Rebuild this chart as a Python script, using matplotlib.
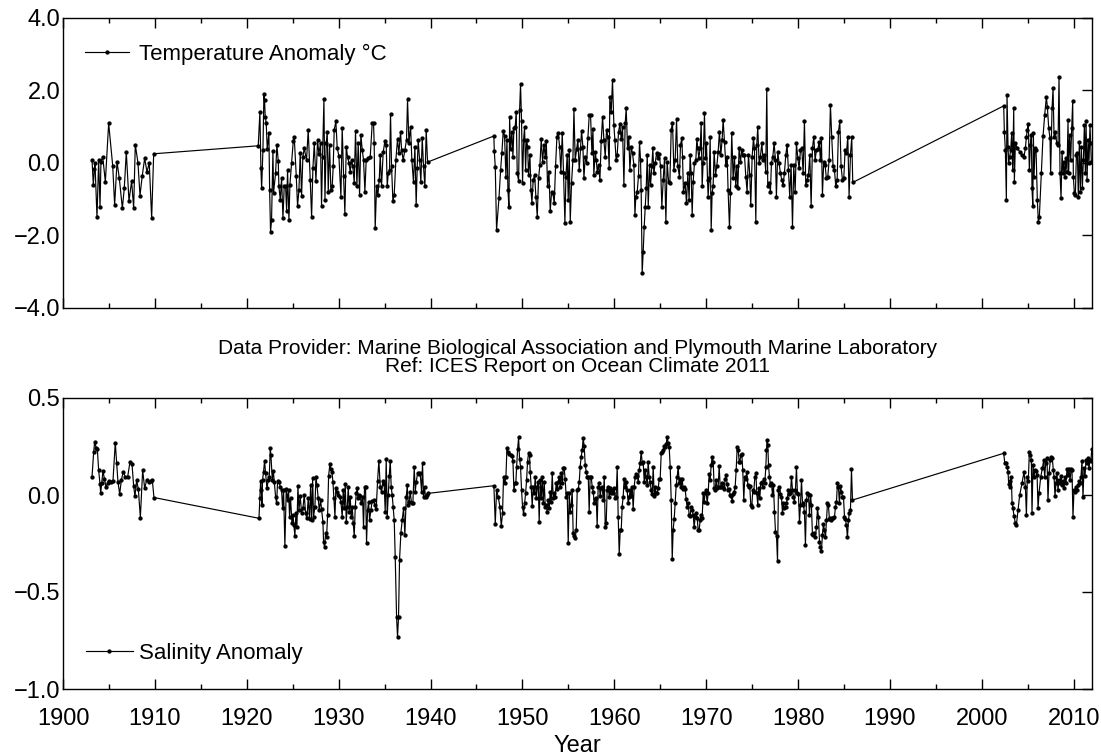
import numpy as np
import matplotlib
matplotlib.use("Agg")
import matplotlib.pyplot as plt
from matplotlib.ticker import MultipleLocator, FuncFormatter

plt.rcParams['font.family'] = ['Liberation Sans', 'DejaVu Sans']

# ---------------- DATA (year, anomaly) ----------------
temp_1903_1910 = [
    (1903.16, 0.08), (1903.30, -0.61), (1903.41, -0.18), (1903.48, -0.01), (1903.70, -1.50),
    (1903.88, 0.08), (1904.03, -1.21), (1904.13, 0.03), (1904.32, 0.17), (1904.61, -0.52),
    (1904.97, 1.09), (1905.41, -0.08), (1905.62, -1.16), (1905.88, 0.03), (1906.13, -0.43),
    (1906.46, -1.25), (1906.67, -0.70), (1906.89, 0.30), (1907.18, -1.05), (1907.47, -0.50),
    (1907.69, -1.25), (1907.87, 0.50), (1908.16, 0.00), (1908.38, -0.90), (1908.63, -0.35),
    (1908.89, 0.13), (1909.14, -0.25), (1909.39, 0.00), (1909.65, -1.53), (1909.87, 0.25),
]

temp_1921_1939 = [
    (1921.25, 0.47), (1921.43, 1.40), (1921.54, -0.15), (1921.62, -0.70), (1921.76, 0.35),
    (1921.87, 1.90), (1921.94, 1.72), (1922.01, 1.27), (1922.12, 1.09), (1922.23, 0.38),
    (1922.41, 0.82), (1922.49, -0.74), (1922.59, -1.91), (1922.70, -1.57), (1922.85, 0.32),
    (1922.92, -0.82), (1923.14, -0.28), (1923.28, 0.50), (1923.43, 0.04), (1923.50, -0.65),
    (1923.65, -1.02), (1923.79, -0.42), (1923.94, -1.52), (1924.08, -0.65), (1924.23, -0.65),
    (1924.34, -1.34), (1924.44, -0.19), (1924.59, -1.57), (1924.70, -0.60), (1924.88, 0.00),
    (1925.06, 0.59), (1925.17, 0.70), (1925.39, -0.37), (1925.53, -1.20), (1925.68, -0.74),
    (1925.82, 0.27), (1925.97, -0.91), (1926.11, 0.17), (1926.26, 0.40), (1926.51, 0.08),
    (1926.69, 0.91), (1926.91, -0.47), (1927.06, -1.50), (1927.20, -0.15), (1927.35, 0.54),
    (1927.53, -0.50), (1927.71, 0.63), (1927.85, 0.25), (1928.03, 0.54), (1928.14, -1.18),
    (1928.25, 0.17), (1928.40, 1.75), (1928.51, -1.02), (1928.65, 0.54), (1928.76, 0.86),
    (1928.87, -0.79), (1929.01, 0.50), (1929.16, -0.76), (1929.30, -0.65), (1929.41, -0.10),
    (1929.52, 0.91), (1929.70, 1.14), (1929.85, 0.40), (1930.03, 0.19), (1930.25, -0.93),
    (1930.39, 0.97), (1930.54, -0.37), (1930.68, -1.40), (1930.83, 0.45), (1930.97, 0.17),
    (1931.12, 0.00), (1931.26, -0.24), (1931.41, 0.08), (1931.55, -0.10), (1931.70, -0.56),
    (1931.84, 0.88), (1931.99, -0.65), (1932.13, 0.54), (1932.28, -0.88), (1932.42, 0.77),
    (1932.57, 0.36), (1932.71, 0.08), (1932.86, -0.79), (1933.00, 0.08), (1933.22, 0.13),
    (1933.44, 0.16), (1933.66, 1.11), (1933.80, 1.09), (1933.87, 0.54), (1933.98, -1.80),
    (1934.13, -0.65), (1934.27, -0.88), (1934.42, -0.47), (1934.53, 0.22), (1934.67, -0.65),
    (1934.85, 0.29), (1935.04, 0.61), (1935.18, 0.50), (1935.29, -0.65), (1935.40, -0.28),
    (1935.54, -0.19), (1935.65, 1.35), (1935.76, -0.10), (1935.91, -1.06), (1936.05, -0.88),
    (1936.23, 0.08), (1936.41, 0.65), (1936.56, 0.27), (1936.74, 0.86), (1936.85, 0.36),
    (1937.03, 0.08), (1937.21, 0.36), (1937.39, 0.63), (1937.50, 1.75), (1937.65, 0.56),
    (1937.83, 1.00), (1937.97, 0.08), (1938.15, -0.54), (1938.30, 0.45), (1938.44, -1.16),
    (1938.55, -0.15), (1938.66, 0.63), (1938.81, 0.08), (1938.95, -0.54), (1939.10, 0.68),
    (1939.24, -0.10), (1939.39, -0.65), (1939.53, 0.91), (1939.68, 0.02),
]

temp_1947_1966 = [
    (1946.90, 0.74), (1946.94, 0.34), (1947.05, -0.12), (1947.19, -1.85), (1947.45, -0.98),
    (1947.63, -0.20), (1947.77, 0.28), (1947.92, 0.88), (1948.06, 0.74), (1948.21, -0.40),
    (1948.32, 0.63), (1948.43, -0.76), (1948.54, -1.23), (1948.61, 1.25), (1948.72, 0.37),
    (1948.86, 0.86), (1948.97, 0.17), (1949.08, 0.95), (1949.22, 1.00), (1949.33, 1.41),
    (1949.44, -0.29), (1949.59, -0.49), (1949.70, 1.46), (1949.80, 2.17), (1949.91, 1.14),
    (1950.02, -0.56), (1950.13, 0.63), (1950.24, 0.98), (1950.35, -0.20), (1950.46, 0.63),
    (1950.57, 0.45), (1950.67, -0.33), (1950.82, 0.22), (1950.93, -0.75), (1951.04, -1.10),
    (1951.18, -0.47), (1951.33, -0.33), (1951.47, -0.93), (1951.62, -1.48), (1951.76, -0.43),
    (1951.91, -0.06), (1952.05, 0.65), (1952.20, 0.03), (1952.34, 0.49), (1952.49, 0.17),
    (1952.60, 0.61), (1952.74, -0.64), (1952.89, -0.24), (1953.03, -1.34), (1953.18, -0.79),
    (1953.32, -0.84), (1953.47, -1.11), (1953.61, -0.10), (1953.76, 0.72), (1953.90, 0.83),
    (1954.05, 0.45), (1954.19, -0.24), (1954.34, 0.81), (1954.48, -0.29), (1954.63, -1.66),
    (1954.74, -0.38), (1954.88, 0.22), (1954.99, -1.02), (1955.10, 0.36), (1955.21, -1.62),
    (1955.35, -0.56), (1955.50, 0.08), (1955.61, 1.48), (1955.75, 0.08), (1955.90, 0.37),
    (1956.04, 0.63), (1956.19, -0.20), (1956.33, 0.40), (1956.44, 0.89), (1956.59, 0.43),
    (1956.70, -0.43), (1956.84, 0.17), (1956.99, -0.01), (1957.13, 0.68), (1957.28, 1.32),
    (1957.42, 1.32), (1957.57, 0.26), (1957.68, 0.93), (1957.78, -0.33), (1957.93, 0.31),
    (1958.04, 0.08), (1958.15, -0.24), (1958.29, -0.06), (1958.44, -0.47), (1958.58, 0.60),
    (1958.73, 1.27), (1958.87, 0.63), (1959.02, 0.17), (1959.16, 0.91), (1959.31, 0.72),
    (1959.45, -0.15), (1959.52, 1.81), (1959.67, 1.41), (1959.81, 2.28), (1959.96, 1.04),
    (1960.07, 0.63), (1960.21, 0.08), (1960.32, 0.22), (1960.47, 0.86), (1960.61, 1.06),
    (1960.76, 0.65), (1960.90, 1.00), (1961.05, -0.61), (1961.19, 1.09), (1961.30, 1.50),
    (1961.45, 0.40), (1961.59, 0.70), (1961.70, -0.20), (1961.85, 0.43), (1961.99, 0.26),
    (1962.14, -0.06), (1962.25, -1.43), (1962.35, -0.93), (1962.50, -0.79), (1962.64, -0.36),
    (1962.75, 0.58), (1962.86, 0.08), (1962.93, -0.75), (1963.04, -3.04), (1963.15, -2.45),
    (1963.26, -1.76), (1963.37, -1.21), (1963.48, -0.70), (1963.59, 0.22), (1963.70, -1.21),
    (1963.84, -0.06), (1963.95, -0.61), (1964.09, -0.10), (1964.20, 0.40), (1964.31, -0.29),
    (1964.46, -0.01), (1964.60, 0.26), (1964.75, 0.13), (1964.89, 0.25), (1965.04, -0.10),
    (1965.18, -1.21), (1965.33, -0.47), (1965.47, 0.13), (1965.62, -1.62), (1965.76, 0.03),
    (1965.91, -0.52), (1966.05, -0.56), (1966.20, 0.91), (1966.34, 1.11), (1966.49, -0.20),
    (1966.63, 0.08), (1966.78, 1.20),
]

temp_1967_1986 = [
    (1966.92, -0.10), (1967.10, -0.38), (1967.21, 0.49), (1967.35, 0.68), (1967.43, 0.17),
    (1967.53, -0.79), (1967.72, -0.56), (1967.86, -1.11), (1968.01, -0.29), (1968.15, -1.02),
    (1968.26, 0.22), (1968.37, -0.29), (1968.48, -1.43), (1968.59, -0.52), (1968.73, -0.01),
    (1968.88, 0.08), (1968.99, 0.66), (1969.09, 0.40), (1969.20, 0.13), (1969.35, 0.40),
    (1969.46, 1.09), (1969.57, -0.65), (1969.67, -0.01), (1969.82, 1.37), (1969.93, 0.13),
    (1970.04, 0.54), (1970.15, -0.47), (1970.22, -0.93), (1970.33, -0.43), (1970.44, 0.70),
    (1970.55, -1.85), (1970.65, -0.84), (1970.76, -0.65), (1970.87, 0.31), (1971.02, -0.33),
    (1971.16, -0.10), (1971.31, 0.31), (1971.45, 0.86), (1971.60, 0.22), (1971.74, 0.63),
    (1971.85, 1.18), (1972.00, 0.58), (1972.14, -0.06), (1972.29, 0.17), (1972.39, -0.75),
    (1972.54, -1.78), (1972.65, -0.84), (1972.79, 0.81), (1972.94, -0.43), (1973.08, 0.17),
    (1973.23, -0.65), (1973.34, -0.10), (1973.45, -0.70), (1973.59, 0.40), (1973.74, 0.03),
    (1973.88, 0.36), (1974.03, 0.22), (1974.17, 0.22), (1974.32, -0.38), (1974.46, -0.79),
    (1974.61, 0.22), (1974.75, -0.33), (1974.86, -1.16), (1975.01, 0.17), (1975.15, 0.68),
    (1975.26, 0.40), (1975.41, -1.62), (1975.51, 0.49), (1975.62, 0.98), (1975.77, -0.01),
    (1975.91, 0.17), (1976.06, 0.54), (1976.20, 0.08), (1976.35, 0.22), (1976.49, -0.24),
    (1976.60, 2.03), (1976.71, -0.65), (1976.86, -0.56), (1977.00, -0.79), (1977.11, -0.01),
    (1977.26, 0.17), (1977.40, 0.54), (1977.55, 0.08), (1977.65, -0.93), (1977.80, 0.31),
    (1977.94, -0.01), (1978.09, -0.29), (1978.23, -0.47), (1978.38, -0.61), (1978.52, -0.29),
    (1978.67, 0.22), (1978.81, 0.49), (1978.96, -0.20), (1979.10, -0.93), (1979.25, -0.06),
    (1979.40, -1.76), (1979.54, -0.06), (1979.69, -0.79), (1979.83, 0.54), (1979.98, 0.13),
    (1980.12, -0.15), (1980.27, 0.36), (1980.41, 0.40), (1980.56, -0.29), (1980.70, 1.15),
    (1980.85, -0.61), (1980.99, -0.47), (1981.14, -0.33), (1981.28, 0.22), (1981.43, -1.19),
    (1981.57, 0.40), (1981.72, 0.72), (1981.86, 0.08), (1982.01, 0.36), (1982.15, 0.37),
    (1982.30, 0.58), (1982.44, 0.08), (1982.55, 0.68), (1982.66, -0.88), (1982.80, 0.03),
    (1982.95, -0.06), (1983.09, -0.43), (1983.24, -0.38), (1983.39, 0.08), (1983.53, 1.59),
    (1983.67, 0.72), (1983.82, -0.10), (1983.97, -0.20), (1984.11, -0.65), (1984.26, -0.47),
    (1984.40, 0.86), (1984.55, 1.14), (1984.69, -0.10), (1984.84, -0.47), (1984.98, -0.43),
    (1985.13, 0.36), (1985.27, 0.26), (1985.42, 0.72), (1985.56, -0.93), (1985.71, 0.22),
    (1985.85, 0.70), (1985.96, -0.54),
]

temp_2002_2012 = [
    (2002.39, 1.57), (2002.46, 0.86), (2002.57, 0.36), (2002.68, -1.02), (2002.75, 1.87),
    (2002.86, 0.45), (2002.93, -0.01), (2003.04, 0.17), (2003.15, 0.36), (2003.26, 0.81),
    (2003.37, -0.20), (2003.48, 1.50), (2003.55, -0.52), (2003.66, 0.54), (2003.88, 0.40),
    (2004.13, 0.31), (2004.38, 0.22), (2004.60, 0.17), (2004.75, 0.40), (2004.86, 0.72),
    (2004.96, 0.91), (2005.07, 1.07), (2005.18, -0.20), (2005.29, 0.49), (2005.40, 0.77),
    (2005.47, -0.70), (2005.56, -1.20), (2005.62, 0.81), (2005.69, -0.38), (2005.80, 0.40),
    (2005.91, 0.36), (2006.05, -1.02), (2006.16, -1.62), (2006.27, -1.48), (2006.49, -0.29),
    (2006.67, 0.74), (2006.85, 1.32), (2007.03, 1.81), (2007.14, 1.55), (2007.29, 0.95),
    (2007.43, 0.68), (2007.50, -0.29), (2007.65, 1.50), (2007.76, 2.05), (2007.87, 0.72),
    (2008.01, 0.86), (2008.16, 0.54), (2008.30, 0.49), (2008.41, 2.36), (2008.52, -0.29),
    (2008.63, -0.98), (2008.74, 0.31), (2008.85, -0.29), (2008.95, 0.03), (2009.06, -0.38),
    (2009.17, 0.13), (2009.28, -0.24), (2009.39, 1.18), (2009.46, -0.29), (2009.57, 0.77),
    (2009.68, 0.08), (2009.79, 0.95), (2009.90, 1.71), (2009.97, -0.38), (2010.08, -0.84),
    (2010.19, -0.88), (2010.30, 0.22), (2010.41, 0.26), (2010.51, -0.93), (2010.62, 0.58),
    (2010.73, -0.79), (2010.84, 0.45), (2010.95, -0.70), (2011.06, 0.08), (2011.17, 1.04),
    (2011.28, -0.29), (2011.35, 1.14), (2011.46, -0.47), (2011.57, 0.63), (2011.67, -0.01),
    (2011.78, 1.04), (2011.86, 0.54), (2011.93, 0.03),
]

sal_1903_1910 = [
    (1903.16, 0.094), (1903.34, 0.223), (1903.45, 0.274), (1903.63, 0.240), (1903.74, 0.235),
    (1903.88, 0.128), (1904.03, 0.056), (1904.10, 0.008), (1904.21, 0.060), (1904.35, 0.125),
    (1904.50, 0.085), (1904.68, 0.042), (1904.86, 0.060), (1905.04, 0.072), (1905.22, 0.068),
    (1905.44, 0.073), (1905.69, 0.270), (1905.84, 0.163), (1905.98, 0.068), (1906.17, 0.005),
    (1906.35, 0.077), (1906.56, 0.120), (1906.78, 0.094), (1907.04, 0.094), (1907.29, 0.171),
    (1907.51, 0.160), (1907.69, 0.046), (1907.83, -0.006), (1908.02, 0.077), (1908.20, 0.029),
    (1908.42, -0.116), (1908.67, 0.128), (1908.89, 0.034), (1909.10, 0.077), (1909.32, 0.068),
    (1909.54, 0.073), (1909.72, 0.077), (1909.90, -0.013),
]

sal_1921_1939 = [
    (1921.33, -0.120), (1921.43, -0.017), (1921.51, 0.074), (1921.58, 0.026), (1921.65, -0.052),
    (1921.72, 0.077), (1921.83, 0.120), (1921.94, 0.177), (1922.05, 0.111), (1922.20, 0.034),
    (1922.34, 0.077), (1922.45, 0.094), (1922.56, 0.240), (1922.63, 0.206), (1922.78, 0.077),
    (1922.89, 0.125), (1922.99, 0.069), (1923.14, -0.009), (1923.25, -0.043), (1923.36, 0.074),
    (1923.50, 0.069), (1923.65, 0.043), (1923.79, 0.026), (1923.90, -0.069), (1924.01, 0.026),
    (1924.15, -0.263), (1924.30, 0.029), (1924.44, -0.026), (1924.55, 0.026), (1924.66, -0.112),
    (1924.77, -0.017), (1924.92, -0.146), (1925.03, -0.103), (1925.13, -0.155), (1925.24, -0.212),
    (1925.35, -0.095), (1925.46, -0.167), (1925.57, 0.046), (1925.68, -0.078), (1925.82, -0.005),
    (1925.97, -0.095), (1926.11, -0.069), (1926.26, 0.000), (1926.40, -0.095), (1926.55, -0.120),
    (1926.69, -0.017), (1926.84, -0.126), (1926.95, 0.051), (1927.06, -0.129), (1927.17, 0.086),
    (1927.27, -0.112), (1927.42, -0.060), (1927.53, 0.094), (1927.64, 0.051), (1927.78, -0.017),
    (1927.89, -0.078), (1928.04, -0.026), (1928.14, -0.074), (1928.29, -0.138), (1928.36, -0.241),
    (1928.47, -0.267), (1928.58, -0.198), (1928.69, -0.215), (1928.80, -0.103), (1928.91, 0.098),
    (1929.05, 0.160), (1929.16, 0.132), (1929.27, 0.120), (1929.38, 0.069), (1929.49, -0.017),
    (1929.60, -0.112), (1929.70, 0.034), (1929.81, 0.017), (1929.96, 0.000), (1930.10, -0.009),
    (1930.25, -0.035), (1930.39, -0.112), (1930.50, 0.026), (1930.61, -0.069), (1930.72, 0.056),
    (1930.83, -0.138), (1930.94, -0.060), (1931.05, 0.043), (1931.15, -0.086), (1931.26, -0.009),
    (1931.37, -0.112), (1931.48, -0.060), (1931.59, -0.146), (1931.70, -0.212), (1931.81, -0.060),
    (1931.92, 0.008), (1932.02, 0.034), (1932.13, -0.017), (1932.24, 0.000), (1932.35, -0.005),
    (1932.46, -0.043), (1932.61, -0.012), (1932.71, -0.167), (1932.82, 0.039), (1932.93, 0.039),
    (1933.04, -0.246), (1933.15, -0.078), (1933.26, -0.035), (1933.37, -0.129), (1933.51, -0.078),
    (1933.66, -0.029), (1933.80, -0.026), (1933.95, -0.052), (1934.09, -0.074), (1934.24, 0.074),
    (1934.38, 0.177), (1934.53, 0.043), (1934.67, 0.017), (1934.82, 0.072), (1934.96, 0.056),
    (1935.07, -0.086), (1935.18, 0.184), (1935.29, -0.112), (1935.40, 0.000), (1935.51, 0.098),
    (1935.62, 0.177), (1935.72, 0.043), (1935.83, 0.000), (1935.94, -0.064), (1936.05, -0.129),
    (1936.16, -0.321), (1936.31, -0.631), (1936.41, -0.730), (1936.52, -0.631), (1936.63, -0.335),
    (1936.78, -0.194), (1936.92, -0.129), (1937.07, -0.069), (1937.21, -0.206), (1937.36, -0.012),
    (1937.47, 0.051), (1937.57, -0.052), (1937.68, -0.035), (1937.79, 0.017), (1937.94, -0.043),
    (1938.08, -0.043), (1938.23, 0.142), (1938.34, 0.017), (1938.45, 0.069), (1938.59, 0.111),
    (1938.74, 0.108), (1938.88, 0.111), (1939.03, 0.017), (1939.13, 0.167), (1939.24, -0.012),
    (1939.35, 0.043), (1939.46, -0.012), (1939.61, 0.000), (1939.68, 0.008),
]

sal_1947_1973 = [
    (1946.90, 0.048), (1947.05, -0.150), (1947.19, 0.025), (1947.37, -0.009), (1947.55, -0.060),
    (1947.70, -0.160), (1947.84, -0.095), (1947.95, 0.094), (1948.10, 0.060), (1948.21, 0.094),
    (1948.32, 0.240), (1948.42, 0.223), (1948.57, 0.211), (1948.71, 0.206), (1948.86, 0.200),
    (1948.97, 0.177), (1949.08, 0.025), (1949.19, 0.063), (1949.29, 0.063), (1949.37, 0.142),
    (1949.48, 0.235), (1949.59, 0.297), (1949.69, 0.188), (1949.80, 0.146), (1949.91, 0.025),
    (1950.02, -0.060), (1950.13, -0.098), (1950.24, -0.043), (1950.35, 0.008), (1950.46, 0.077),
    (1950.56, 0.171), (1950.67, 0.214), (1950.78, 0.206), (1950.85, 0.120), (1950.96, 0.042),
    (1951.07, -0.057), (1951.18, 0.042), (1951.29, 0.008), (1951.40, 0.094), (1951.51, -0.018),
    (1951.62, 0.042), (1951.72, 0.068), (1951.83, -0.138), (1951.94, 0.077), (1952.05, -0.018),
    (1952.16, 0.094), (1952.27, -0.043), (1952.38, 0.068), (1952.49, -0.060), (1952.60, -0.052),
    (1952.70, -0.086), (1952.81, -0.026), (1952.92, -0.069), (1953.03, 0.017), (1953.14, -0.035),
    (1953.25, 0.111), (1953.36, -0.018), (1953.47, 0.008), (1953.57, -0.009), (1953.68, 0.060),
    (1953.79, 0.029), (1953.90, 0.068), (1954.01, 0.094), (1954.12, 0.042), (1954.23, 0.111),
    (1954.34, 0.060), (1954.45, 0.137), (1954.55, 0.137), (1954.66, 0.080), (1954.77, -0.009),
    (1954.88, 0.008), (1954.99, -0.246), (1955.10, 0.008), (1955.21, -0.086), (1955.32, -0.052),
    (1955.42, 0.025), (1955.53, -0.195), (1955.64, -0.212), (1955.75, -0.224), (1955.86, -0.181),
    (1955.97, 0.025), (1956.08, 0.029), (1956.19, 0.068), (1956.29, 0.146), (1956.40, 0.197),
    (1956.51, 0.231), (1956.62, 0.292), (1956.73, 0.252), (1956.84, 0.154), (1956.95, 0.120),
    (1957.06, 0.094), (1957.17, 0.094), (1957.27, -0.086), (1957.38, 0.094), (1957.49, 0.094),
    (1957.60, 0.042), (1957.71, 0.017), (1957.82, -0.043), (1957.93, -0.023), (1958.04, -0.018),
    (1958.14, -0.160), (1958.25, 0.042), (1958.36, 0.060), (1958.47, -0.006), (1958.58, 0.034),
    (1958.69, 0.042), (1958.80, -0.026), (1958.91, 0.094), (1959.02, -0.163), (1959.12, -0.146),
    (1959.23, 0.025), (1959.34, 0.042), (1959.45, -0.009), (1959.56, 0.034), (1959.67, 0.008),
    (1959.78, 0.025), (1959.89, 0.008), (1959.99, 0.034), (1960.10, -0.018), (1960.21, -0.009),
    (1960.32, 0.142), (1960.43, -0.112), (1960.54, -0.305), (1960.65, -0.178), (1960.76, -0.181),
    (1960.86, -0.060), (1960.97, -0.009), (1961.08, 0.085), (1961.19, 0.042), (1961.30, 0.068),
    (1961.41, 0.025), (1961.52, -0.043), (1961.63, -0.009), (1961.74, 0.025), (1961.84, -0.006),
    (1961.95, 0.042), (1962.06, -0.074), (1962.17, 0.042), (1962.28, 0.094), (1962.39, 0.108),
    (1962.50, 0.097), (1962.61, 0.068), (1962.71, 0.128), (1962.82, 0.163), (1962.93, 0.223),
    (1963.04, 0.166), (1963.15, 0.171), (1963.26, 0.068), (1963.37, 0.128), (1963.48, 0.094),
    (1963.59, 0.051), (1963.69, 0.171), (1963.80, 0.094), (1963.91, 0.068), (1964.02, 0.025),
    (1964.13, 0.005), (1964.24, 0.146), (1964.35, -0.006), (1964.46, 0.042), (1964.56, 0.008),
    (1964.67, 0.012), (1964.78, 0.034), (1964.89, 0.080), (1965.00, 0.085), (1965.11, 0.214),
    (1965.22, 0.223), (1965.33, 0.231), (1965.43, 0.252), (1965.54, 0.245), (1965.65, 0.262),
    (1965.76, 0.300), (1965.87, 0.266), (1965.98, 0.245), (1966.09, 0.146), (1966.20, -0.026),
    (1966.31, -0.332), (1966.41, -0.181), (1966.52, -0.126), (1966.63, -0.043), (1966.74, 0.051),
    (1966.85, 0.094), (1966.96, 0.146), (1967.07, 0.060), (1967.18, 0.080), (1967.28, 0.039),
    (1967.39, 0.085), (1967.50, 0.029), (1967.61, 0.042), (1967.72, 0.029), (1967.83, -0.023),
    (1967.94, -0.060), (1968.05, -0.040), (1968.15, -0.103), (1968.26, -0.109), (1968.37, -0.060),
    (1968.48, -0.078), (1968.59, -0.103), (1968.70, -0.167), (1968.81, -0.112), (1968.92, -0.092),
    (1969.03, -0.120), (1969.13, -0.178), (1969.24, -0.181), (1969.35, -0.129), (1969.46, -0.103),
    (1969.57, -0.116), (1969.68, 0.008), (1969.79, -0.035), (1969.90, 0.012), (1970.00, 0.025),
    (1970.11, -0.043), (1970.22, 0.008), (1970.33, 0.108), (1970.44, 0.077), (1970.55, 0.154),
    (1970.66, 0.197), (1970.77, 0.171), (1970.88, 0.034), (1970.98, 0.025), (1971.09, 0.077),
    (1971.20, 0.034), (1971.31, 0.042), (1971.42, 0.149), (1971.53, 0.042), (1971.64, 0.039),
    (1971.75, 0.063), (1971.85, 0.042), (1971.96, 0.029), (1972.07, 0.080), (1972.18, 0.103),
    (1972.29, 0.056), (1972.40, 0.025), (1972.51, 0.029), (1972.62, 0.000), (1972.73, -0.006),
    (1972.83, -0.030), (1972.94, 0.005), (1973.05, 0.017), (1973.16, 0.042), (1973.27, 0.128),
    (1973.38, 0.245), (1973.49, 0.231), (1973.60, 0.171),
]

sal_1974_1986 = [
    (1973.67, 0.171), (1973.78, 0.206), (1973.88, 0.211), (1973.99, 0.128), (1974.10, -0.026),
    (1974.21, 0.094), (1974.32, 0.085), (1974.43, 0.120), (1974.54, 0.051), (1974.65, 0.042),
    (1974.75, 0.046), (1974.86, -0.052), (1974.97, -0.060), (1975.08, 0.025), (1975.19, 0.017),
    (1975.30, 0.094), (1975.41, 0.111), (1975.52, 0.008), (1975.62, -0.052), (1975.73, 0.034),
    (1975.84, -0.018), (1975.95, 0.060), (1976.06, 0.068), (1976.17, 0.042), (1976.28, 0.080),
    (1976.39, 0.063), (1976.50, 0.146), (1976.57, 0.231), (1976.64, 0.286), (1976.71, 0.257),
    (1976.79, 0.154), (1976.89, 0.094), (1977.00, 0.051), (1977.11, 0.060), (1977.22, 0.000),
    (1977.33, 0.051), (1977.44, -0.086), (1977.55, -0.190), (1977.66, -0.212), (1977.77, -0.341),
    (1977.87, 0.025), (1977.98, 0.042), (1978.09, 0.005), (1978.20, -0.009), (1978.31, -0.092),
    (1978.42, -0.043), (1978.53, -0.069), (1978.64, -0.060), (1978.74, -0.043), (1978.85, -0.018),
    (1978.96, 0.025), (1979.07, 0.005), (1979.18, 0.008), (1979.29, 0.094), (1979.40, 0.025),
    (1979.51, -0.009), (1979.61, -0.035), (1979.72, 0.025), (1979.83, 0.142), (1979.94, 0.008),
    (1980.05, 0.005), (1980.16, -0.138), (1980.27, -0.052), (1980.38, 0.077), (1980.49, -0.043),
    (1980.59, -0.052), (1980.70, -0.086), (1980.81, -0.258), (1980.92, -0.026), (1981.03, 0.008),
    (1981.14, 0.003), (1981.25, -0.103), (1981.36, 0.000), (1981.46, -0.052), (1981.57, -0.202),
    (1981.68, -0.207), (1981.79, -0.198), (1981.90, -0.215), (1982.01, -0.164), (1982.12, -0.069),
    (1982.23, -0.112), (1982.34, -0.241), (1982.44, -0.267), (1982.55, -0.287), (1982.66, -0.207),
    (1982.77, -0.150), (1982.88, -0.181), (1982.99, -0.219), (1983.10, -0.129), (1983.21, -0.043),
    (1983.31, -0.052), (1983.42, -0.126), (1983.53, -0.120), (1983.64, -0.129), (1983.75, -0.120),
    (1983.86, -0.116), (1983.97, -0.112), (1984.08, -0.060), (1984.19, -0.035), (1984.29, 0.063),
    (1984.40, 0.042), (1984.51, -0.043), (1984.62, 0.046), (1984.73, 0.017), (1984.84, -0.009),
    (1984.95, -0.009), (1985.06, -0.112), (1985.16, -0.126), (1985.27, -0.155), (1985.38, -0.219),
    (1985.49, -0.129), (1985.60, -0.092), (1985.71, -0.078), (1985.82, 0.132), (1985.93, -0.026),
]

sal_2002_2012 = [
    (2002.39, 0.215), (2002.50, 0.167), (2002.64, 0.163), (2002.75, 0.146), (2002.86, 0.120),
    (2002.93, 0.057), (2003.04, 0.040), (2003.11, 0.074), (2003.22, 0.094), (2003.30, -0.040),
    (2003.40, -0.069), (2003.51, -0.108), (2003.66, -0.146), (2003.77, -0.155), (2003.95, -0.077),
    (2004.13, 0.000), (2004.38, 0.060), (2004.60, 0.120), (2004.75, 0.043), (2004.86, -0.103),
    (2004.96, 0.094), (2005.07, 0.074), (2005.18, 0.223), (2005.29, 0.206), (2005.40, 0.180),
    (2005.47, -0.095), (2005.58, 0.154), (2005.69, 0.094), (2005.80, 0.129), (2005.91, 0.125),
    (2006.02, 0.103), (2006.13, -0.069), (2006.23, 0.008), (2006.42, 0.094), (2006.60, 0.137),
    (2006.74, 0.180), (2006.85, 0.094), (2006.96, 0.163), (2007.10, 0.189), (2007.21, -0.026),
    (2007.32, 0.111), (2007.47, 0.180), (2007.58, 0.197), (2007.68, 0.189), (2007.79, 0.129),
    (2007.87, 0.094), (2007.97, -0.005), (2008.08, 0.060), (2008.19, 0.111), (2008.30, 0.026),
    (2008.41, 0.077), (2008.52, 0.060), (2008.63, 0.098), (2008.74, 0.051), (2008.85, 0.074),
    (2008.95, 0.034), (2009.06, 0.094), (2009.17, 0.060), (2009.28, 0.132), (2009.39, 0.103),
    (2009.50, 0.132), (2009.61, 0.077), (2009.72, 0.132), (2009.82, 0.129), (2009.93, -0.115),
    (2010.04, 0.026), (2010.15, 0.017), (2010.26, 0.040), (2010.37, 0.026), (2010.48, 0.051),
    (2010.59, 0.074), (2010.70, 0.060), (2010.80, 0.094), (2010.91, 0.177), (2011.02, -0.012),
    (2011.13, 0.137), (2011.24, 0.098), (2011.35, 0.180), (2011.46, 0.163), (2011.57, 0.189),
    (2011.67, 0.137), (2011.78, 0.180), (2011.89, 0.177), (2011.97, 0.235),
]

temp_label = "Temperature Anomaly \u00b0C"
sal_label = "Salinity Anomaly"
title_lines = [
    "Data Provider: Marine Biological Association and Plymouth Marine Laboratory",
    "Ref: ICES Report on Ocean Climate 2011",
]
x_label = "Year"

temp = np.array(temp_1903_1910 + temp_1921_1939 + temp_1947_1966 + temp_1967_1986 + temp_2002_2012)
sal = np.array(sal_1903_1910 + sal_1921_1939 + sal_1947_1973 + sal_1974_1986 + sal_2002_2012)

# ---------------- FIGURE ----------------
W, H = 1101, 755
fig = plt.figure(figsize=(W / 100, H / 100), dpi=100)
ax1 = fig.add_axes([63 / W, 1 - 308 / H, 1029 / W, 290.3 / H])
ax2 = fig.add_axes([63 / W, 1 - 689 / H, 1029 / W, 291 / H])

line_kw = dict(color='black', lw=0.85, marker='o', ms=2.1, mfc='black', mec='black')
ax1.plot(temp[:, 0], temp[:, 1], label=temp_label, **line_kw)
ax2.plot(sal[:, 0], sal[:, 1], label=sal_label, **line_kw)

ax1.set_ylim(-4, 4)
ax1.yaxis.set_major_locator(MultipleLocator(2))
ax2.set_ylim(-1, 0.5)
ax2.yaxis.set_major_locator(MultipleLocator(0.5))

fmt = FuncFormatter(lambda v, p: f"{v:.1f}".replace("-", "\u2212"))

for ax in (ax1, ax2):
    ax.set_xlim(1900, 2012)
    ax.xaxis.set_major_locator(MultipleLocator(10))
    ax.xaxis.set_minor_locator(MultipleLocator(5))
    ax.yaxis.set_major_formatter(fmt)
    ax.tick_params(axis='both', which='both', direction='in', top=True, right=True,
                   left=False, width=1.0, color='black')
    ax.tick_params(axis='x', which='major', length=7.5)
    ax.tick_params(axis='x', which='minor', length=3.5)
    ax.tick_params(axis='y', which='major', length=7.5, pad=2, labelsize=17)
    ax.tick_params(axis='x', which='major', pad=13.5, labelsize=17)
    for s in ax.spines.values():
        s.set_linewidth(1.0)

ax1.tick_params(axis='x', labelbottom=False)

ax2.set_xlabel(x_label, fontsize=17, labelpad=3.5)

ax1.legend(loc='center left', bbox_to_anchor=(22 / 1029, 1 - 36.5 / 290.3), frameon=False,
           borderpad=0, borderaxespad=0, handlelength=2.0, handletextpad=0.45,
           fontsize=16, numpoints=1)
ax2.legend(loc='center left', bbox_to_anchor=(23 / 1029, 35.3 / 291), frameon=False,
           borderpad=0, borderaxespad=0, handlelength=2.1, handletextpad=0.3,
           fontsize=16, numpoints=1)

cx = (63 + 1092) / 2 / W
fig.text(cx, 1 - 339 / H, "\n".join(title_lines), ha='center', va='top',
         multialignment='center', fontsize=15, linespacing=0.93)

fig.savefig('out.png', dpi=100)
